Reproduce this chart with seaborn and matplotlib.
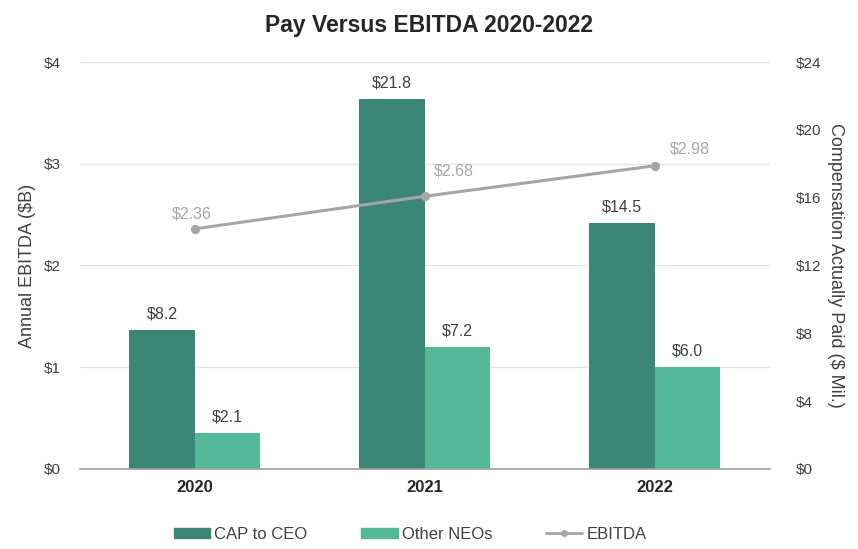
import numpy as np
import pandas as pd
import matplotlib
matplotlib.use("Agg")
import matplotlib.pyplot as plt
from matplotlib.lines import Line2D
import seaborn as sns

# chart data
years = ["2020", "2021", "2022"]
cap_ceo = [8.2, 21.8, 14.5]
other_neos = [2.1, 7.2, 6.0]
ebitda = [2.36, 2.68, 2.98]
series_names = ["CAP to CEO", "Other NEOs"]

sns.set_theme(style="white")
plt.rcParams['font.family'] = ['Liberation Sans', 'DejaVu Sans']

df = pd.DataFrame({
    "year": years * 2,
    "value": cap_ceo + other_neos,
    "series": [series_names[0]] * 3 + [series_names[1]] * 3,
})

fig = plt.figure(figsize=(8.58, 5.49), dpi=100)
ax = fig.add_axes([0.093, 0.146, 0.804, 0.741])

# bars go on the base axes (right-hand $ Mil. scale)
sns.barplot(data=df, x="year", y="value", hue="series", order=years,
            hue_order=series_names, palette=["#3b8676", "#55b899"],
            width=0.57, saturation=1, linewidth=0, ax=ax, zorder=2,
            legend=False)
ax.set_ylim(0, 24)
ax.set_xlabel("")
ax.tick_params(axis="x", length=0, labelsize=12, labelcolor="#262626", pad=8)
for lbl in ax.get_xticklabels():
    lbl.set_fontweight("bold")

# gridlines follow the left EBITDA ticks ($1B = $6M on the right scale)
for v in np.arange(6, 25, 6):
    ax.axhline(v, color="#e3e3e3", lw=0.9, zorder=0)

for spine in ["top", "left", "right"]:
    ax.spines[spine].set_visible(False)
ax.spines["bottom"].set_color("#a0a0a0")
ax.spines["bottom"].set_linewidth(1.2)

for cont in ax.containers:
    ax.bar_label(cont, labels=[f"${b.get_height():.1f}" for b in cont],
                 padding=6, fontsize=11.5, color="#404040")

# EBITDA line on the twin (left) axis
ax2 = ax.twinx()
sns.pointplot(x=years, y=ebitda, order=years, color="#a6a6a6",
              markers="o", markersize=5, linewidth=2.2, ax=ax2)
ax2.set_ylim(0, 4)
ax2.set_yticks([0, 1, 2, 3, 4])
ax2.set_yticklabels([f"${v}" for v in [0, 1, 2, 3, 4]])
ax2.yaxis.tick_left()
ax2.yaxis.set_label_position("left")
ax2.set_ylabel("Annual EBITDA ($B)", fontsize=13, color="#404040", labelpad=5)
ax2.tick_params(axis="y", length=0, labelsize=11, labelcolor="#404040", pad=14)
for spine in ax2.spines.values():
    spine.set_visible(False)

# right axis ticks (twinx resets the base axes to the left, so set them now)
ax.yaxis.tick_right()
ax.yaxis.set_label_position("right")
ax.set_yticks(np.arange(0, 25, 4))
ax.set_yticklabels([f"${int(v)}" for v in np.arange(0, 25, 4)])
ax.set_ylabel("Compensation Actually Paid ($ Mil.)", rotation=270,
              labelpad=16, fontsize=13, color="#404040")
ax.tick_params(axis="y", length=0, labelsize=11, labelcolor="#404040", pad=19)

offsets = [(-2, 5.5), (21, 13), (25, 7)]
for i, (val, off) in enumerate(zip(ebitda, offsets)):
    ax2.annotate(f"${val:.2f}", (i, val), xytext=off, textcoords="offset points",
                 ha="center", va="bottom", fontsize=11.5, color="#a6a6a6")

ax.set_xlim(-0.5, 2.5)

handles = [
    plt.Rectangle((0, 0), 1, 1, color="#3b8676"),
    plt.Rectangle((0, 0), 1, 1, color="#55b899"),
    Line2D([0], [0], color="#a6a6a6", lw=2, marker="o", markersize=4),
]
fig.legend(handles, series_names + ["EBITDA"], loc="center",
           bbox_to_anchor=(0.478, 0.027), ncol=3, frameon=False, fontsize=12,
           handlelength=2.2, handleheight=0.6, handletextpad=0.25,
           columnspacing=3.2, labelcolor="#404040")

fig.suptitle("Pay Versus EBITDA 2020-2022", y=0.975, fontsize=16.5,
             fontweight="bold", color="#262626")

fig.savefig("out.png", dpi=100)
